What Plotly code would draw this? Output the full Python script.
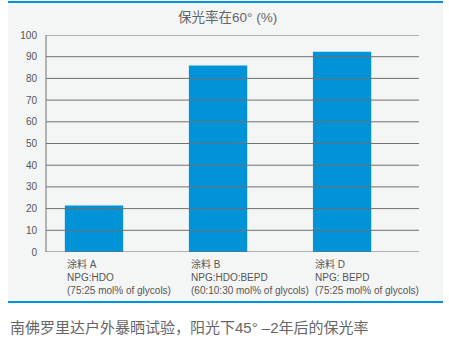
import plotly.graph_objects as go

categories = ["涂料 A", "涂料 B", "涂料 D"]
values = [21.4, 86.0, 92.3]
sub1 = ["NPG:HDO", "NPG:HDO:BEPD", "NPG: BEPD"]
sub2 = ["(75:25 mol% of glycols)", "(60:10:30 mol% of glycols)", "(75:25 mol% of glycols)"]
ytickvals = [0, 10, 20, 30, 40, 50, 60, 70, 80, 90, 100]
title_text = "保光率在60° (%)"
caption_text = "南佛罗里达户外暴晒试验，阳光下45° –2年后的保光率"

W, H = 449, 346
L, R, T, B = 46, 30, 35, 94
pw, ph = W - L - R, H - T - B

def px_x(x):
    return (x - L) / pw

def px_y(y):
    return (H - B - y) / ph

FONT = "Liberation Sans, Arial, Noto Sans CJK SC, sans-serif"
BLUE = "#0093d7"
GRID = "#707070"

fig = go.Figure()
fig.add_trace(go.Bar(x=categories, y=values, marker=dict(color=BLUE, line=dict(width=0)), width=0.47))

shapes = []
shapes.append(dict(type="rect", xref="paper", yref="paper", x0=px_x(8), x1=px_x(443), y0=px_y(302), y1=px_y(2),
                   fillcolor="#f4f5f5", line=dict(width=0), layer="below"))
for yy in (2, 302):
    shapes.append(dict(type="line", xref="paper", yref="paper", x0=px_x(8), x1=px_x(443), y0=px_y(yy), y1=px_y(yy),
                       line=dict(color=BLUE, width=2), layer="above"))
for v in ytickvals:
    shapes.append(dict(type="line", xref="paper", yref="y", x0=0, x1=1, y0=v, y1=v,
                       line=dict(color=GRID, width=1), layer="above"))
shapes.append(dict(type="line", xref="paper", yref="y", x0=0, x1=0, y0=0, y1=100,
                   line=dict(color=GRID, width=1), layer="above"))

annotations = []
for c, s1, s2 in zip(categories, sub1, sub2):
    annotations.append(dict(x=c, y=0, xref="x", yref="paper", xanchor="left", yanchor="top",
                            xshift=-29, yshift=-4, align="left", showarrow=False,
                            text=f"{c}<br>{s1}<br>{s2}",
                            font=dict(family=FONT, size=10, color="#555555")))
annotations.append(dict(x=px_x(227), y=px_y(17), xref="paper", yref="paper", xanchor="center", yanchor="middle",
                        showarrow=False, text=title_text,
                        font=dict(family=FONT, size=13.5, color="#666666")))
annotations.append(dict(x=px_x(8), y=px_y(327), xref="paper", yref="paper", xanchor="left", yanchor="middle",
                        showarrow=False, text=caption_text,
                        font=dict(family=FONT, size=15, color="#666666")))

fig.update_layout(
    width=W, height=H,
    margin=dict(l=L, r=R, t=T, b=B, pad=0),
    paper_bgcolor="white", plot_bgcolor="rgba(0,0,0,0)",
    showlegend=False,
    shapes=shapes, annotations=annotations,
    xaxis=dict(range=[-0.387, 2.62], showticklabels=False, showgrid=False, zeroline=False, showline=False,
               fixedrange=True),
    yaxis=dict(range=[0, 100], tickvals=ytickvals, showgrid=False, zeroline=False, showline=False,
               ticks="", ticklabelstandoff=8, tickfont=dict(family=FONT, size=10, color="#555555"),
               fixedrange=True),
    font=dict(family=FONT),
)

fig.write_html("out.html", config={"displayModeBar": False})
